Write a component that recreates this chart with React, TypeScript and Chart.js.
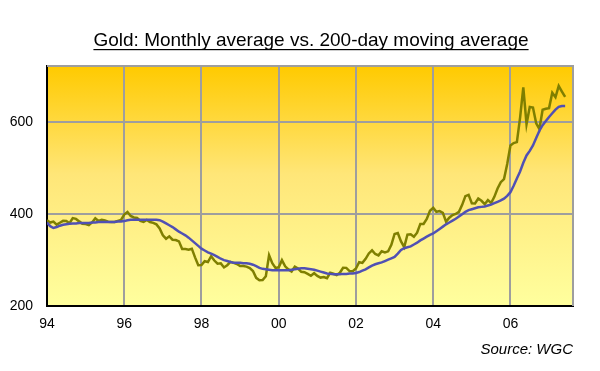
import React, { useEffect, useRef } from "react";
import { Chart, registerables } from "chart.js";

Chart.register(...registerables);

// ---- Data ----
const startYear = 1994; // first month = Jan 1994, one value per month

// Gold monthly average price (US$/oz), Jan 1994 – Jun 2007
const goldMonthlyAvg: number[] = [
  // 1994
  386.9, 381.9, 384.0, 377.3, 381.4, 385.6, 385.5, 380.4, 391.6, 389.8, 384.4, 379.3,
  // 1995
  378.6, 376.5, 382.1, 391.0, 385.2, 387.6, 386.2, 383.7, 383.1, 383.1, 385.5, 387.4,
  // 1996
  399.4, 404.8, 396.2, 392.9, 391.8, 385.3, 383.5, 387.5, 383.1, 381.1, 377.9, 369.2,
  // 1997
  354.1, 346.6, 351.8, 344.5, 343.8, 340.8, 324.1, 324.0, 322.8, 324.9, 306.0, 288.7,
  // 1998
  289.1, 297.5, 295.9, 308.4, 299.1, 292.3, 292.9, 284.1, 288.9, 296.1, 294.1, 291.6,
  // 1999
  287.1, 287.3, 285.9, 282.6, 276.4, 261.3, 256.1, 256.7, 264.7, 310.7, 293.2, 283.1,
  // 2000
  284.3, 299.9, 286.4, 279.7, 275.3, 285.7, 281.6, 274.5, 273.7, 270.0, 266.0, 271.5,
  // 2001
  265.5, 261.9, 263.0, 260.5, 272.4, 270.2, 267.5, 272.4, 283.4, 283.1, 276.2, 275.9,
  // 2002
  281.7, 295.5, 294.0, 302.7, 314.5, 321.2, 313.3, 310.3, 319.2, 316.6, 319.2, 333.4,
  // 2003
  356.9, 359.0, 340.6, 328.2, 355.7, 356.4, 351.0, 359.8, 378.9, 378.9, 389.9, 407.6,
  // 2004
  414.0, 405.3, 406.7, 403.0, 383.8, 392.4, 398.1, 400.5, 405.3, 420.5, 439.4, 442.1,
  // 2005
  424.0, 423.4, 434.2, 429.2, 421.9, 430.7, 424.5, 437.9, 456.0, 469.9, 476.7, 509.4,
  // 2006
  549.9, 555.0, 557.1, 610.6, 676.5, 596.2, 633.8, 632.6, 598.2, 585.8, 627.8, 629.8,
  // 2007
  631.2, 664.8, 654.9, 679.4, 667.3, 655.7,
];

// 200-day moving average at each month
const movingAvg200: number[] = [
  // 1994
  382, 374, 370, 372, 375, 377, 378, 379, 380, 380, 381, 381,
  // 1995
  381, 381, 382, 382, 383, 383, 383, 383, 383, 383, 384, 384,
  // 1996
  385, 387, 388, 388, 388, 388, 388, 388, 388, 388, 388, 387,
  // 1997
  384, 380, 376, 372, 367, 362, 358, 354, 349, 343, 337, 331,
  // 1998
  325, 321, 317, 314, 311, 307, 303, 300, 298, 296, 294, 294,
  // 1999
  294, 293, 293, 292, 290, 287, 283, 281, 280, 279, 278, 278,
  // 2000
  278, 278, 278, 278, 279, 280, 281, 282, 282, 281, 280, 279,
  // 2001
  277, 275, 273, 271, 270, 269, 269, 269, 270, 270, 271, 271,
  // 2002
  272, 274, 277, 280, 284, 288, 291, 293, 295, 298, 301, 304,
  // 2003
  307, 314, 322, 326, 328, 330, 334, 338, 343, 347, 351, 355,
  // 2004
  358, 363, 368, 373, 378, 382, 386, 390, 395, 400, 405, 409,
  // 2005
  411, 413, 415, 416, 417, 419, 421, 424, 427, 430, 434, 440,
  // 2006
  448, 462, 478, 493, 512, 528, 538, 550, 566, 582, 594, 603,
  // 2007
  612, 620, 628, 634, 636, 636,
];

const xTickYears = [1994, 1996, 1998, 2000, 2002, 2004, 2006];
const xTickLabels = ["94", "96", "98", "00", "02", "04", "06"];
const yTickValues = [200, 400, 600];
const yMin = 200;
const yMax = 723;
const xMax = 2007.62;

const titleText = "Gold: Monthly average vs. 200-day moving average";
const sourceText = "Source: WGC";

const FONT = "'Liberation Sans', Arial, Helvetica, sans-serif";

const toPoints = (vals: number[]) =>
  vals.map((v, i) => ({ x: startYear + i / 12, y: v }));

const decorPlugin = {
  id: "decor",
  beforeDraw(chart: any) {
    const { ctx, chartArea } = chart;
    ctx.save();
    ctx.fillStyle = "#ffffff";
    ctx.fillRect(0, 0, chart.width, chart.height);
    const g = ctx.createLinearGradient(0, chartArea.top, 0, chartArea.bottom);
    g.addColorStop(0, "#ffca00");
    g.addColorStop(0.45, "#ffe678");
    g.addColorStop(1, "#ffff9e");
    ctx.fillStyle = g;
    ctx.fillRect(
      chartArea.left,
      chartArea.top,
      chartArea.right - chartArea.left,
      chartArea.bottom - chartArea.top
    );
    ctx.restore();
  },
  beforeDatasetsDraw(chart: any) {
    const { ctx, chartArea } = chart;
    ctx.save();
    ctx.strokeStyle = "#9e9e9e";
    ctx.lineWidth = 2;
    ctx.beginPath();
    ctx.moveTo(chartArea.left, chartArea.top);
    ctx.lineTo(chartArea.right, chartArea.top);
    ctx.lineTo(chartArea.right, chartArea.bottom);
    ctx.stroke();
    ctx.restore();
  },
  afterDraw(chart: any) {
    const { ctx, chartArea } = chart;
    ctx.save();
    // Title with underline
    ctx.font = `19px ${FONT}`;
    ctx.fillStyle = "#000";
    ctx.textAlign = "center";
    ctx.textBaseline = "alphabetic";
    const cx = 311;
    const by = 46;
    ctx.fillText(titleText, cx, by);
    const w = ctx.measureText(titleText).width;
    ctx.fillRect(cx - w / 2, by + 3, w, 1.2);
    // Source
    ctx.font = `italic 15px ${FONT}`;
    ctx.textAlign = "right";
    ctx.textBaseline = "middle";
    ctx.fillText(sourceText, chartArea.right, 350);
    ctx.restore();
  },
};

export default function App() {
  const ref = useRef<HTMLCanvasElement | null>(null);

  useEffect(() => {
    if (!ref.current) return;
    const chart = new Chart(ref.current, {
      type: "line",
      data: {
        datasets: [
          {
            label: "200-day moving average",
            data: toPoints(movingAvg200),
            borderColor: "#5050b4",
            borderWidth: 2.5,
            pointRadius: 0,
            tension: 0,
            fill: false,
          },
          {
            label: "Monthly average",
            data: toPoints(goldMonthlyAvg),
            borderColor: "#7f7f00",
            borderWidth: 2.5,
            pointRadius: 0,
            tension: 0,
            fill: false,
          },
        ],
      },
      options: {
        responsive: false,
        animation: false,
        devicePixelRatio: 1,
        parsing: false,
        layout: { padding: { top: 66, right: 27, bottom: 0, left: 0 } },
        plugins: {
          legend: { display: false },
          title: { display: false },
          tooltip: { enabled: false },
        },
        scales: {
          x: {
            type: "linear",
            min: startYear,
            max: xMax,
            afterBuildTicks: (s: any) => {
              s.ticks = xTickYears.map((v) => ({ value: v }));
            },
            afterFit: (s: any) => {
              s.height = 65;
            },
            ticks: {
              autoSkip: false,
              maxRotation: 0,
              padding: 10,
              color: "#000",
              font: { family: FONT, size: 14 },
              callback: (v: any) => {
                const i = xTickYears.indexOf(Math.round(Number(v)));
                return i >= 0 ? xTickLabels[i] : "";
              },
            },
            grid: { color: "#9e9e9e", lineWidth: 2, drawTicks: false },
            border: { color: "#000", width: 2 },
          },
          y: {
            type: "linear",
            min: yMin,
            max: yMax,
            afterBuildTicks: (s: any) => {
              s.ticks = yTickValues.map((v) => ({ value: v }));
            },
            afterFit: (s: any) => {
              s.width = 47;
            },
            ticks: {
              padding: 14,
              color: "#000",
              font: { family: FONT, size: 14 },
              callback: (v: any) => String(v),
            },
            grid: { color: "#9e9e9e", lineWidth: 2, drawTicks: false },
            border: { color: "#000", width: 2 },
          },
        },
      },
      plugins: [decorPlugin],
    } as any);
    return () => chart.destroy();
  }, []);

  return (
    <div
      style={{
        position: "absolute",
        left: 0,
        top: 0,
        width: 600,
        height: 371,
        background: "#fff",
      }}
    >
      <canvas
        ref={ref}
        width={600}
        height={371}
        style={{ display: "block", width: 600, height: 371 }}
      />
    </div>
  );
}
